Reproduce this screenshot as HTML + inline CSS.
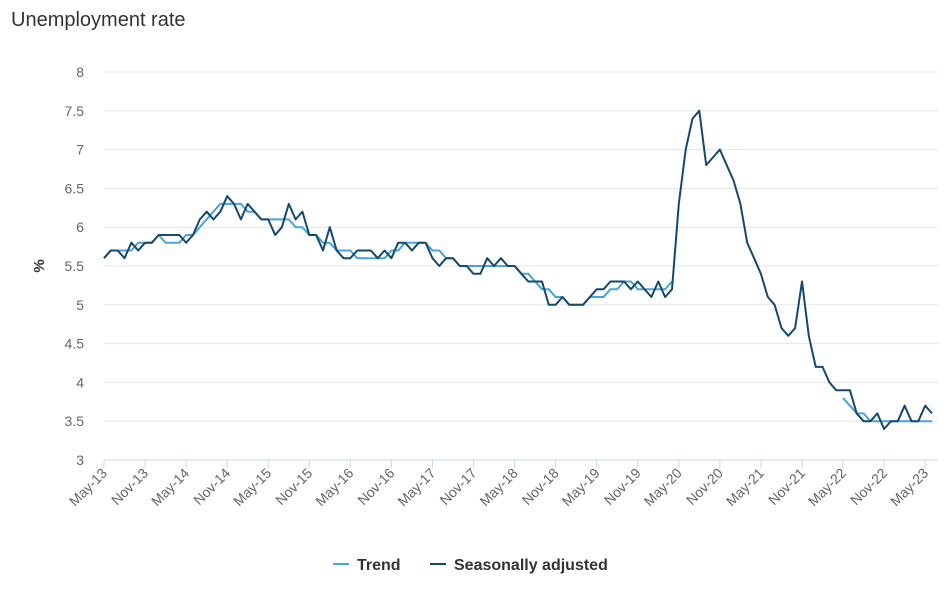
<!DOCTYPE html>
<html><head><meta charset="utf-8"><style>
body{margin:0;background:#fff;font-family:"Liberation Sans",sans-serif}
svg text{font-family:"Liberation Sans",sans-serif}
</style></head><body>
<svg width="952" height="588" id="c">
<text x="11" y="26" font-size="20" fill="#333">Unemployment rate</text>
<text transform="translate(44,266) rotate(-90)" font-size="15" fill="#333" text-anchor="middle" font-weight="bold">%</text>
<g id="grid"></g><g id="series"></g>
<g>
<g><line x1="333" y1="564" x2="349" y2="564" stroke="#4aa3d9" stroke-width="2"/><text x="357" y="570" font-size="16" font-weight="bold" fill="#333">Trend</text></g>
<g><line x1="430" y1="564" x2="446" y2="564" stroke="#16486e" stroke-width="2"/><text x="454" y="570" font-size="16" font-weight="bold" fill="#333">Seasonally adjusted</text></g>
</g>
</svg>
<script>
const yTicks=[3,3.5,4,4.5,5,5.5,6,6.5,7,7.5,8];
const xLabels=["May-13","Nov-13","May-14","Nov-14","May-15","Nov-15","May-16","Nov-16","May-17","Nov-17","May-18","Nov-18","May-19","Nov-19","May-20","Nov-20","May-21","Nov-21","May-22","Nov-22","May-23"];
const seasonallyAdjusted=[5.6,5.7,5.7,5.6,5.8,5.7,5.8,5.8,5.9,5.9,5.9,5.9,5.8,5.9,6.1,6.2,6.1,6.2,6.4,6.3,6.1,6.3,6.2,6.1,6.1,5.9,6.0,6.3,6.1,6.2,5.9,5.9,5.7,6.0,5.7,5.6,5.6,5.7,5.7,5.7,5.6,5.7,5.6,5.8,5.8,5.7,5.8,5.8,5.6,5.5,5.6,5.6,5.5,5.5,5.4,5.4,5.6,5.5,5.6,5.5,5.5,5.4,5.3,5.3,5.3,5.0,5.0,5.1,5.0,5.0,5.0,5.1,5.2,5.2,5.3,5.3,5.3,5.2,5.3,5.2,5.1,5.3,5.1,5.2,6.3,7.0,7.4,7.5,6.8,6.9,7.0,6.8,6.6,6.3,5.8,5.6,5.4,5.1,5.0,4.7,4.6,4.7,5.3,4.6,4.2,4.2,4.0,3.9,3.9,3.9,3.6,3.5,3.5,3.6,3.4,3.5,3.5,3.7,3.5,3.5,3.7,3.6];
const trend=[5.6,5.7,5.7,5.7,5.7,5.8,5.8,5.8,5.9,5.8,5.8,5.8,
5.9,5.9,6.0,6.1,6.2,6.3,6.3,6.3,6.3,6.2,6.2,6.1,
6.1,6.1,6.1,6.1,6.0,6.0,5.9,5.9,5.8,5.8,5.7,5.7,
5.7,5.6,5.6,5.6,5.6,5.6,5.7,5.7,5.8,5.8,5.8,5.8,
5.7,5.7,5.6,5.6,5.5,5.5,5.5,5.5,5.5,5.5,5.5,5.5,
5.5,5.4,5.4,5.3,5.2,5.2,5.1,5.1,5.0,5.0,5.0,5.1,
5.1,5.1,5.2,5.2,5.3,5.3,5.2,5.2,5.2,5.2,5.2,5.3,
null,null,null,null,null,null,null,null,null,null,null,null,
null,null,null,null,null,null,null,null,null,null,null,null,
3.8,3.7,3.6,3.6,3.5,3.5,3.5,3.5,3.5,3.5,3.5,3.5,3.5,3.5];
const NS="http://www.w3.org/2000/svg";
const X0=104,X1=932,Y0=460,Y1=72,yMin=3,yMax=8,N=seasonallyAdjusted.length;
const xs=i=>X0+(X1-X0)*i/(N-1);
const ys=v=>Y0-(v-yMin)/(yMax-yMin)*(Y0-Y1);
const grid=document.getElementById('grid'),ser=document.getElementById('series');
function mk(t,a,p){const e=document.createElementNS(NS,t);for(const k in a)e.setAttribute(k,a[k]);p.appendChild(e);return e;}
yTicks.forEach(v=>{
 const l=mk('line',{x1:X0,x2:X1+6,y1:ys(v),y2:ys(v),stroke:v===3?'#ccd6eb':'#e6e6e6','stroke-width':1},grid);
 
 
 const t=mk('text',{x:84,y:ys(v)+5,'font-size':14,fill:'#666','text-anchor':'end'},grid);
 t.textContent=v;
 
 
});
xLabels.forEach((s,j)=>{
 const x=xs(j*6);
 const tk=mk('line',{x1:x,x2:x,y1:Y0,y2:Y0+8,stroke:'#ccd6eb'},grid);
 
 
 const t=mk('text',{'font-size':14,fill:'#666','text-anchor':'end',transform:`translate(${x+4},${Y0+14}) rotate(-45)`},grid);
 t.textContent=s;
 
 
});
function path(arr){let d='',pen=false;arr.forEach((v,i)=>{if(v==null){pen=false;return;}d+=(pen?'L':'M')+xs(i).toFixed(1)+' '+ys(v).toFixed(1);pen=true;});return d;}
const pt=mk('path',{d:path(trend),fill:'none',stroke:'#4aa3d9','stroke-width':2},ser);


const ps=mk('path',{d:path(seasonallyAdjusted),fill:'none',stroke:'#16486e','stroke-width':2,'stroke-linejoin':'round'},ser);


</script>
</body></html>
